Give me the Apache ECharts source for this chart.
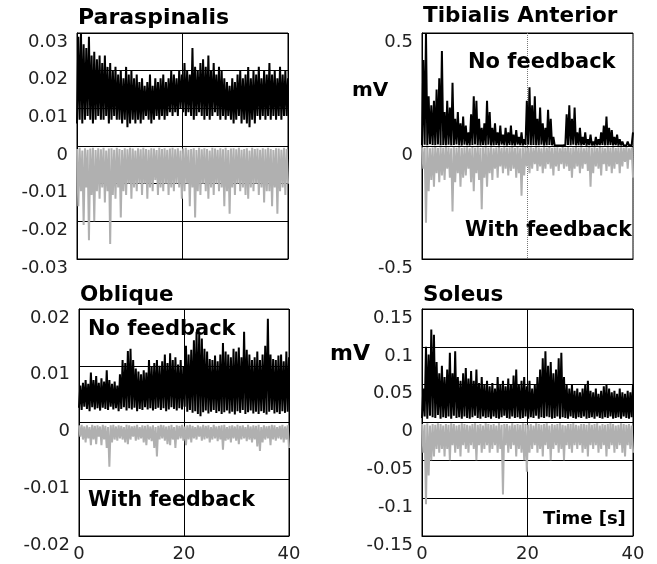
<!DOCTYPE html>
<html><head><meta charset="utf-8">
<script src="https://cdn.jsdelivr.net/npm/echarts@6.0.0/dist/echarts.min.js"></script>
<style>html,body{margin:0;padding:0;background:#fff}#c{width:657px;height:564px}</style>
</head><body><div id="c"></div><script>
// ---- data (0.5 s resolution, low/high envelope) ----
const duration = 40;
const timeTicks = [0, 20, 40];

// Paraspinalis
const paraNoFbLo = [0.006,0.007,0.006,0.007,0.008,0.007,0.006,0.007, 0.008,0.007,0.007,0.008,0.006,0.007,0.008,0.007, 0.007,0.006,0.007,0.005,0.006,0.007,0.006,0.007, 0.006,0.007,0.008,0.007,0.006,0.007,0.008,0.007, 0.008,0.007,0.008,0.009,0.008,0.009,0.008,0.010, 0.009,0.008,0.009,0.008,0.007,0.008,0.009,0.008, 0.007,0.008,0.007,0.008,0.009,0.008,0.007,0.008, 0.007,0.008,0.007,0.006,0.007,0.008,0.006,0.007, 0.006,0.005,0.007,0.006,0.008,0.007,0.008,0.007, 0.008,0.007,0.008,0.007,0.008,0.007,0.008,0.008];
const paraNoFbHi = [0.029,0.030,0.027,0.026,0.029,0.024,0.025,0.023, 0.024,0.022,0.024,0.021,0.022,0.020,0.021,0.019, 0.020,0.018,0.021,0.019,0.020,0.018,0.019,0.017, 0.018,0.016,0.017,0.019,0.016,0.018,0.017,0.018, 0.019,0.017,0.018,0.020,0.019,0.018,0.020,0.019, 0.022,0.020,0.019,0.026,0.021,0.020,0.022,0.023, 0.021,0.024,0.020,0.022,0.019,0.021,0.020,0.018, 0.017,0.016,0.018,0.017,0.019,0.020,0.018,0.019, 0.021,0.018,0.020,0.019,0.021,0.018,0.020,0.019, 0.022,0.019,0.020,0.018,0.021,0.019,0.020,0.018];
const paraFbTop = [-0.0008,-0.0005,-0.0012,-0.0006,-0.0010,-0.0007,-0.0005,-0.0011, -0.0006,-0.0009,-0.0005,-0.0012,-0.0007,-0.0006,-0.0010,-0.0005, -0.0008,-0.0011,-0.0006,-0.0009,-0.0005,-0.0007,-0.0012,-0.0006, -0.0009,-0.0005,-0.0008,-0.0010,-0.0006,-0.0007,-0.0011,-0.0005, -0.0008,-0.0006,-0.0010,-0.0007,-0.0005,-0.0009,-0.0006,-0.0012, -0.0007,-0.0005,-0.0010,-0.0008,-0.0006,-0.0011,-0.0005,-0.0009, -0.0006,-0.0008,-0.0012,-0.0005,-0.0007,-0.0010,-0.0006,-0.0009, -0.0005,-0.0011,-0.0007,-0.0006,-0.0009,-0.0005,-0.0010,-0.0008, -0.0006,-0.0012,-0.0005,-0.0008,-0.0007,-0.0010,-0.0006,-0.0009, -0.0005,-0.0008,-0.0011,-0.0006,-0.0007,-0.0010,-0.0005,-0.0008];
const paraFbBottom = [-0.016,-0.012,-0.021,-0.011,-0.025,-0.013,-0.020,-0.012, -0.014,-0.011,-0.015,-0.012,-0.026,-0.013,-0.014,-0.011, -0.019,-0.012,-0.013,-0.010,-0.014,-0.011,-0.012,-0.010, -0.013,-0.010,-0.014,-0.011,-0.012,-0.009,-0.013,-0.011, -0.012,-0.010,-0.013,-0.011,-0.012,-0.010,-0.011,-0.014, -0.012,-0.010,-0.016,-0.011,-0.019,-0.012,-0.013,-0.010, -0.012,-0.014,-0.011,-0.013,-0.010,-0.012,-0.011,-0.016, -0.012,-0.018,-0.011,-0.013,-0.010,-0.012,-0.011,-0.013, -0.014,-0.011,-0.012,-0.010,-0.013,-0.011,-0.015,-0.012, -0.012,-0.016,-0.011,-0.018,-0.012,-0.011,-0.013,-0.010];

// Tibialis Anterior
const tibNoFbLo = [0.004,0.006,0.003,0.008,0.005,0.004,0.007,0.003, 0.005,0.004,0.006,0.003,0.005,0.007,0.004,0.003, 0.006,0.004,0.003,0.005,0.007,0.004,0.003,0.005, 0.004,0.006,0.003,0.004,0.005,0.003,0.006,0.004, 0.003,0.005,0.004,0.003,0.006,0.004,0.003,0.005, 0.006,0.004,0.005,0.003,0.004,0.006,0.003,0.004, 0.005,0.003,0.002,0.002,0.002,0.002,0.004,0.005, 0.004,0.006,0.003,0.004,0.003,0.005,0.002,0.004, 0.003,0.002,0.003,0.004,0.005,0.003,0.004,0.005, 0.003,0.004,0.002,0.003,0.002,0.002,0.002,0.004];
const tibNoFbHi = [0.38,0.50,0.22,0.18,0.20,0.25,0.30,0.42, 0.15,0.20,0.17,0.28,0.12,0.15,0.10,0.13, 0.09,0.06,0.14,0.22,0.20,0.12,0.08,0.10, 0.20,0.15,0.08,0.10,0.06,0.09,0.05,0.08, 0.06,0.09,0.05,0.07,0.04,0.06,0.03,0.20, 0.26,0.18,0.22,0.12,0.17,0.10,0.08,0.16, 0.12,0.04,0.01,0.005,0.01,0.005,0.14,0.18, 0.12,0.17,0.06,0.08,0.04,0.06,0.03,0.05, 0.02,0.04,0.03,0.06,0.09,0.13,0.08,0.07, 0.04,0.05,0.03,0.02,0.01,0.02,0.01,0.06];
const tibFbTop = [-0.006,-0.008,-0.005,-0.010,-0.007,-0.005,-0.009,-0.006, -0.008,-0.005,-0.007,-0.010,-0.006,-0.008,-0.005,-0.009, -0.007,-0.006,-0.010,-0.005,-0.008,-0.006,-0.009,-0.007, -0.005,-0.008,-0.006,-0.010,-0.007,-0.005,-0.009,-0.006, -0.008,-0.007,-0.005,-0.009,-0.006,-0.010,-0.007,-0.005, -0.008,-0.006,-0.009,-0.005,-0.007,-0.010,-0.006,-0.008, -0.005,-0.009,-0.007,-0.006,-0.010,-0.005,-0.008,-0.006, -0.009,-0.007,-0.005,-0.008,-0.006,-0.010,-0.007,-0.005, -0.008,-0.006,-0.009,-0.005,-0.007,-0.010,-0.006,-0.008, -0.005,-0.009,-0.007,-0.006,-0.008,-0.005,-0.010,-0.007];
const tibFbBottom = [-0.10,-0.34,-0.20,-0.15,-0.18,-0.12,-0.16,-0.13, -0.15,-0.10,-0.14,-0.29,-0.16,-0.12,-0.18,-0.14, -0.13,-0.10,-0.16,-0.20,-0.12,-0.15,-0.28,-0.14, -0.18,-0.12,-0.15,-0.10,-0.14,-0.09,-0.12,-0.10, -0.13,-0.11,-0.10,-0.14,-0.12,-0.22,-0.13,-0.09, -0.12,-0.10,-0.08,-0.11,-0.09,-0.12,-0.10,-0.08, -0.10,-0.13,-0.09,-0.11,-0.08,-0.10,-0.09,-0.11, -0.14,-0.10,-0.09,-0.12,-0.10,-0.08,-0.11,-0.18, -0.12,-0.09,-0.10,-0.13,-0.08,-0.11,-0.09,-0.12, -0.10,-0.08,-0.12,-0.09,-0.07,-0.10,-0.06,-0.14];

// Oblique
const oblNoFbLo = [0.0026,0.0022,0.0028,0.0024,0.0020,0.0027,0.0023,0.0025, 0.0021,0.0026,0.0024,0.0022,0.0028,0.0023,0.0025,0.0020, 0.0024,0.0027,0.0021,0.0025,0.0023,0.0026,0.0020,0.0024, 0.0022,0.0027,0.0023,0.0025,0.0021,0.0024,0.0026,0.0022, 0.0025,0.0020,0.0023,0.0027,0.0024,0.0021,0.0025,0.0023, 0.0028,0.0019,0.0022,0.0017,0.0020,0.0015,0.0011,0.0018, 0.0021,0.0016,0.0019,0.0022,0.0017,0.0020,0.0015,0.0018, 0.0021,0.0016,0.0019,0.0014,0.0020,0.0017,0.0022,0.0015, 0.0018,0.0021,0.0016,0.0019,0.0015,0.0020,0.0017,0.0014, 0.0019,0.0022,0.0016,0.0018,0.0015,0.0020,0.0017,0.0019];
const oblNoFbHi = [0.0065,0.0070,0.0075,0.0068,0.0088,0.0075,0.0082,0.0070, 0.0078,0.0072,0.0092,0.0075,0.0068,0.0072,0.0065,0.0085, 0.0110,0.0105,0.0126,0.0130,0.0110,0.0095,0.0090,0.0085, 0.0092,0.0088,0.0110,0.0098,0.0105,0.0110,0.0100,0.0108, 0.0120,0.0105,0.0122,0.0110,0.0115,0.0102,0.0110,0.0098, 0.0135,0.0120,0.0128,0.0145,0.0160,0.0155,0.0148,0.0130, 0.0125,0.0112,0.0110,0.0118,0.0108,0.0120,0.0140,0.0125, 0.0120,0.0115,0.0130,0.0125,0.0132,0.0115,0.0160,0.0128, 0.0120,0.0110,0.0115,0.0125,0.0110,0.0120,0.0135,0.0183, 0.0120,0.0112,0.0110,0.0118,0.0120,0.0108,0.0125,0.0115];
const oblFbTop = [-0.0005,-0.0004,-0.0007,-0.0005,-0.0008,-0.0004,-0.0006,-0.0005, -0.0007,-0.0004,-0.0006,-0.0008,-0.0005,-0.0004,-0.0007,-0.0005, -0.0006,-0.0008,-0.0004,-0.0005,-0.0007,-0.0006,-0.0004,-0.0008, -0.0005,-0.0006,-0.0004,-0.0007,-0.0005,-0.0008,-0.0006,-0.0004, -0.0005,-0.0007,-0.0006,-0.0004,-0.0008,-0.0005,-0.0006,-0.0004, -0.0007,-0.0005,-0.0004,-0.0006,-0.0008,-0.0005,-0.0007,-0.0004, -0.0006,-0.0005,-0.0008,-0.0004,-0.0007,-0.0006,-0.0005,-0.0004, -0.0008,-0.0006,-0.0005,-0.0007,-0.0004,-0.0006,-0.0005,-0.0008, -0.0004,-0.0007,-0.0005,-0.0006,-0.0004,-0.0008,-0.0005,-0.0007, -0.0006,-0.0004,-0.0005,-0.0008,-0.0006,-0.0004,-0.0007,-0.0005];
const oblFbBottom = [-0.0025,-0.0030,-0.0035,-0.0028,-0.0040,-0.0030,-0.0038,-0.0025, -0.0040,-0.0030,-0.0045,-0.0078,-0.0035,-0.0030,-0.0032,-0.0028, -0.0030,-0.0035,-0.0038,-0.0030,-0.0025,-0.0032,-0.0030,-0.0028, -0.0035,-0.0040,-0.0030,-0.0033,-0.0045,-0.0060,-0.0030,-0.0028, -0.0032,-0.0038,-0.0040,-0.0030,-0.0045,-0.0030,-0.0028,-0.0032, -0.0040,-0.0030,-0.0035,-0.0028,-0.0030,-0.0025,-0.0032,-0.0030, -0.0028,-0.0035,-0.0030,-0.0028,-0.0033,-0.0030,-0.0048,-0.0032, -0.0030,-0.0035,-0.0028,-0.0032,-0.0038,-0.0030,-0.0028,-0.0033, -0.0030,-0.0035,-0.0030,-0.0042,-0.0050,-0.0035,-0.0030,-0.0028, -0.0040,-0.0030,-0.0032,-0.0028,-0.0030,-0.0035,-0.0030,-0.0045];

// Soleus
const solNoFbLo = [0.006,0.008,0.005,0.009,0.007,0.006,0.010,0.005, 0.007,0.006,0.008,0.005,0.009,0.006,0.007,0.005, 0.008,0.006,0.005,0.007,0.009,0.006,0.005,0.008, 0.006,0.007,0.005,0.008,0.006,0.005,0.007,0.009, 0.006,0.005,0.008,0.006,0.007,0.005,0.006,0.008, 0.005,0.007,0.006,0.009,0.005,0.007,0.006,0.008, 0.007,0.005,0.006,0.008,0.005,0.007,0.006,0.005, 0.008,0.006,0.005,0.007,0.006,0.008,0.005,0.006, 0.007,0.005,0.008,0.006,0.005,0.007,0.006,0.008, 0.005,0.006,0.007,0.005,0.008,0.006,0.005,0.007];
const solNoFbHi = [0.045,0.100,0.090,0.123,0.116,0.080,0.065,0.075, 0.060,0.070,0.092,0.065,0.094,0.060,0.055,0.065, 0.072,0.058,0.068,0.055,0.070,0.052,0.060,0.050, 0.055,0.048,0.052,0.045,0.060,0.050,0.055,0.048, 0.058,0.050,0.062,0.070,0.050,0.055,0.060,0.048, 0.055,0.045,0.050,0.060,0.070,0.085,0.094,0.075, 0.080,0.065,0.070,0.085,0.092,0.060,0.050,0.045, 0.050,0.042,0.045,0.040,0.045,0.050,0.055,0.042, 0.040,0.045,0.038,0.042,0.048,0.050,0.045,0.040, 0.042,0.038,0.045,0.040,0.038,0.042,0.040,0.050];
const solFbTop = [-0.002,-0.003,-0.001,-0.004,-0.002,-0.003,-0.001,-0.002, -0.004,-0.002,-0.003,-0.001,-0.002,-0.004,-0.003,-0.001, -0.002,-0.003,-0.004,-0.002,-0.001,-0.003,-0.002,-0.004, -0.001,-0.002,-0.003,-0.002,-0.004,-0.001,-0.003,-0.002, -0.002,-0.004,-0.001,-0.003,-0.002,-0.003,-0.001,-0.002, -0.003,-0.002,-0.004,-0.001,-0.002,-0.003,-0.002,-0.001, -0.004,-0.002,-0.003,-0.002,-0.001,-0.003,-0.004,-0.002, -0.002,-0.001,-0.003,-0.004,-0.002,-0.002,-0.003,-0.001, -0.003,-0.002,-0.001,-0.004,-0.002,-0.003,-0.002,-0.001, -0.002,-0.004,-0.003,-0.001,-0.002,-0.003,-0.002,-0.004];
const solFbBottom = [-0.040,-0.108,-0.070,-0.050,-0.045,-0.035,-0.040,-0.035, -0.045,-0.035,-0.050,-0.030,-0.040,-0.035,-0.045,-0.030, -0.035,-0.040,-0.030,-0.035,-0.050,-0.030,-0.040,-0.035, -0.030,-0.040,-0.035,-0.030,-0.040,-0.035,-0.095,-0.030, -0.040,-0.035,-0.030,-0.045,-0.035,-0.040,-0.050,-0.065, -0.040,-0.035,-0.030,-0.040,-0.035,-0.045,-0.030,-0.035, -0.050,-0.035,-0.030,-0.040,-0.035,-0.050,-0.030,-0.035, -0.040,-0.030,-0.035,-0.030,-0.040,-0.035,-0.045,-0.030, -0.035,-0.030,-0.040,-0.035,-0.030,-0.045,-0.035,-0.030, -0.040,-0.035,-0.030,-0.040,-0.045,-0.030,-0.035,-0.040];

// ---- build ----
function zig(lo, hi) {
  const n = lo.length, m = 2 * n - 1, pts = [];
  for (let i = 0; i < n; i++) {
    pts.push([(2 * i) * duration / m, lo[i]]);
    pts.push([(2 * i + 1) * duration / m, hi[i]]);
  }
  return pts;
}

const FONT = 'DejaVu Sans';
const grids = [
  {left: 77, top: 33, width: 211, height: 226},
  {left: 422, top: 33, width: 211, height: 226},
  {left: 79, top: 309, width: 210, height: 227},
  {left: 422, top: 309, width: 211, height: 227}
];
const yRanges = [
  {min: -0.03, max: 0.03, interval: 0.01},
  {min: -0.5, max: 0.5, interval: 0.5},
  {min: -0.02, max: 0.02, interval: 0.01},
  {min: -0.15, max: 0.15, interval: 0.05}
];
const panels = [
  {no: zig(paraNoFbLo, paraNoFbHi), fb: zig(paraFbTop, paraFbBottom)},
  {no: zig(tibNoFbLo, tibNoFbHi), fb: zig(tibFbTop, tibFbBottom)},
  {no: zig(oblNoFbLo, oblNoFbHi), fb: zig(oblFbTop, oblFbBottom)},
  {no: zig(solNoFbLo, solNoFbHi), fb: zig(solFbTop, solFbBottom)}
];

const xAxis = grids.map((g, i) => ({
  type: 'value', gridIndex: i, min: timeTicks[0], max: timeTicks[timeTicks.length - 1], interval: timeTicks[1] - timeTicks[0],
  axisLine: {show: true, onZero: false, lineStyle: {color: '#000', width: 1}},
  axisTick: {show: false},
  axisLabel: {show: i >= 2, color: '#222', fontFamily: FONT, fontSize: 18, margin: 9},
  splitLine: {show: true, lineStyle: i === 1 ? {color: '#777', type: 'dotted', width: 1} : {color: '#000', width: 1}}
}));
const yAxis = grids.map((g, i) => ({
  type: 'value', gridIndex: i, min: yRanges[i].min, max: yRanges[i].max, interval: yRanges[i].interval,
  axisLine: {show: true, lineStyle: {color: '#000', width: 1}},
  axisTick: {show: false},
  axisLabel: {color: '#222', fontFamily: FONT, fontSize: 18, margin: 9, verticalAlign: 'top'},
  splitLine: {show: true, lineStyle: {color: '#000', width: 1}}
}));
const series = [];
panels.forEach((p, i) => {
  series.push({type: 'line', xAxisIndex: i, yAxisIndex: i, data: p.fb, symbol: 'none', showSymbol: false,
    lineStyle: {color: '#b0b0b0', width: 2}, animation: false, silent: true, z: 2});
  series.push({type: 'line', xAxisIndex: i, yAxisIndex: i, data: p.no, symbol: 'none', showSymbol: false,
    lineStyle: {color: '#000', width: 2}, animation: false, silent: true, z: 3});
});

function label(text, x, y, size) {
  return {type: 'text', left: x, top: y, z: 100, silent: true,
    style: {text: text, fill: '#000', font: 'bold ' + size + 'px "' + FONT + '"'}};
}
const graphic = [
  label('Paraspinalis', 78, 7, 22),
  label('Tibialis Anterior', 423, 5, 21.5),
  label('Oblique', 80, 284, 21.5),
  label('Soleus', 423, 284, 21.5),
  label('mV', 352, 81, 20),
  label('mV', 330, 343, 22),
  label('No feedback', 468, 52, 21),
  label('With feedback', 465, 220, 20.5),
  label('No feedback', 88, 319, 21),
  label('With feedback', 88, 490, 20.5),
  label('Time [s]', 543, 510, 18)
];

const chart = echarts.init(document.getElementById('c'), null, {renderer: 'canvas'});
chart.setOption({
  backgroundColor: '#fff',
  animation: false,
  grid: grids.map(g => Object.assign({show: true, borderColor: '#000', borderWidth: 1, containLabel: false}, g)),
  xAxis: xAxis, yAxis: yAxis, series: series, graphic: graphic
});
</script></body></html>
